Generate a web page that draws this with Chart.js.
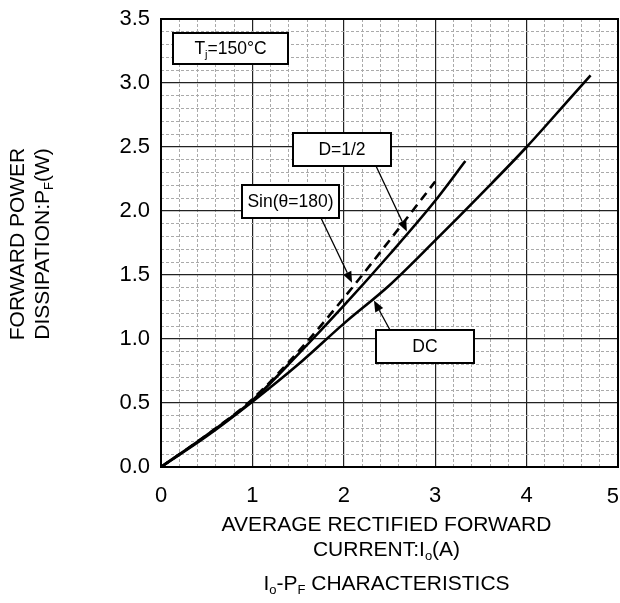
<!DOCTYPE html>
<html><head><meta charset="utf-8">
<script src="https://cdn.jsdelivr.net/npm/chart.js@4/dist/chart.umd.min.js"></script>
<style>html,body{margin:0;padding:0;background:#fff}#wrap{width:620px;height:603px}</style>
</head><body><div id="wrap"><canvas id="c" width="620" height="603"></canvas></div>
<script>
// ---- data ----
const dcX   = [0, 0.5, 1, 1.5, 2, 2.5, 3, 3.5, 4, 4.5, 4.7];
const dcY   = [0, 0.24, 0.51, 0.80, 1.12, 1.42, 1.77, 2.13, 2.50, 2.90, 3.06];
const halfX = [0, 0.5, 1, 1.5, 2, 2.5, 3, 3.33];
const halfY = [0, 0.25, 0.52, 0.88, 1.26, 1.66, 2.08, 2.39];
const sinX  = [0, 0.5, 1, 1.5, 2, 2.5, 3];
const sinY  = [0, 0.25, 0.53, 0.90, 1.32, 1.77, 2.23];
const xTickLabels = ['0','1','2','3','4','5'];
const yTickLabels = ['0.0','0.5','1.0','1.5','2.0','2.5','3.0','3.5'];

const FONT = '"Liberation Sans", Arial, sans-serif';
const toPts = (xs, ys) => xs.map((x, i) => ({x, y: ys[i]}));
const isMult = (v, m) => Math.abs(v / m - Math.round(v / m)) < 1e-6;
const X_MAX = 5;

// annotations (label boxes in pixels, arrow tips in data units)
const notes = [
  {parts:[['T'],['j',1],['=150°C']], box:[173,33,288,64], arrow:null},
  {parts:[['D=1/2']], box:[293,133,391,166], arrow:{from:[376,166], to:[2.69,1.84]}},
  {parts:[['Sin(θ=180)']], box:[242,185,339,218], arrow:{from:[321,218], to:[2.09,1.44]}},
  {parts:[['DC']], box:[376,330,474,363], arrow:{from:[390,330], to:[2.33,1.30]}}
];

function drawRich(ctx, parts, x, y, size, align) {
  const subSize = Math.round(size * 0.62);
  let w = 0;
  parts.forEach(p => { ctx.font = (p[1] ? subSize : size) + 'px ' + FONT; w += ctx.measureText(p[0]).width; });
  let cx = align === 'center' ? x - w / 2 : (align === 'right' ? x - w : x);
  ctx.textBaseline = 'middle';
  ctx.textAlign = 'left';
  parts.forEach(p => {
    ctx.font = (p[1] ? subSize : size) + 'px ' + FONT;
    ctx.fillText(p[0], cx, p[1] ? y + size * 0.32 : y);
    cx += ctx.measureText(p[0]).width;
  });
}

const decor = {
  id: 'decor',
  afterDraw(chart) {
    const {ctx, chartArea: a, scales: {x, y}} = chart;
    ctx.save();
    // frame
    ctx.strokeStyle = '#000'; ctx.lineWidth = 2;
    ctx.strokeRect(a.left, a.top, a.right - a.left, a.bottom - a.top);
    // last x tick label, kept inside the canvas
    ctx.fillStyle = '#000';
    drawRich(ctx, [[xTickLabels[X_MAX]]], x.getPixelForValue(X_MAX) + 1, 497, 22, 'right');
    // annotations
    notes.forEach(n => {
      const [l, t, r, b] = n.box;
      ctx.fillStyle = '#fff';
      ctx.fillRect(l, t, r - l, b - t);
      ctx.strokeStyle = '#000'; ctx.lineWidth = 2;
      ctx.strokeRect(l, t, r - l, b - t);
      ctx.fillStyle = '#000';
      drawRich(ctx, n.parts, (l + r) / 2, (t + b) / 2 + 1, 17.5, 'center');
      if (n.arrow) {
        const fx = n.arrow.from[0], fy = n.arrow.from[1];
        const tx = x.getPixelForValue(n.arrow.to[0]), ty = y.getPixelForValue(n.arrow.to[1]);
        const ang = Math.atan2(ty - fy, tx - fx);
        const hl = 11, hw = 4.5;
        const bx = tx - hl * Math.cos(ang), by = ty - hl * Math.sin(ang);
        ctx.lineWidth = 1.3;
        ctx.beginPath(); ctx.moveTo(fx, fy); ctx.lineTo(bx, by); ctx.stroke();
        ctx.beginPath();
        ctx.moveTo(tx, ty);
        ctx.lineTo(bx + hw * Math.sin(ang), by - hw * Math.cos(ang));
        ctx.lineTo(bx - hw * Math.sin(ang), by + hw * Math.cos(ang));
        ctx.closePath(); ctx.fill();
      }
    });
    // axis titles
    ctx.fillStyle = '#000';
    const cxm = (a.left + a.right) / 2 - 3;
    drawRich(ctx, [['AVERAGE RECTIFIED FORWARD']], cxm, 525, 21, 'center');
    drawRich(ctx, [['CURRENT:I'], ['o', 1], ['(A)']], cxm, 550, 21, 'center');
    drawRich(ctx, [['I'], ['o', 1], ['-P'], ['F', 1], [' CHARACTERISTICS']], cxm, 584, 21, 'center');
    ctx.save();
    ctx.rotate(-Math.PI / 2);
    drawRich(ctx, [['FORWARD POWER']], -244, 18, 21, 'center');
    drawRich(ctx, [['DISSIPATION:P'], ['F', 1], ['(W)']], -244, 43, 21, 'center');
    ctx.restore();
    ctx.restore();
  }
};

const lineDs = (label, xs, ys, dash) => ({
  label, data: toPts(xs, ys), showLine: true, borderColor: '#000', backgroundColor: '#000',
  borderWidth: 2.6, borderDash: dash || [], pointRadius: 0, cubicInterpolationMode: 'monotone', fill: false
});

new Chart(document.getElementById('c'), {
  type: 'scatter',
  data: { datasets: [
    lineDs('DC', dcX, dcY),
    lineDs('D=1/2', halfX, halfY),
    lineDs('Sin(θ=180)', sinX, sinY, [9, 6])
  ]},
  options: {
    responsive: false, animation: false, devicePixelRatio: 1,
    layout: { padding: { left: 0, right: 2, top: 19, bottom: 0 } },
    plugins: { legend: { display: false }, tooltip: { enabled: false } },
    scales: {
      x: {
        type: 'linear', min: 0, max: X_MAX,
        afterFit(s) { s.height = 136; s.paddingLeft = 0; s.paddingRight = 0; },
        ticks: {
          stepSize: 0.2, autoSkip: false, maxRotation: 0, padding: 16,
          font: { family: FONT, size: 22 }, color: '#000',
          callback: v => (isMult(v, 1) && Math.round(v) < X_MAX) ? xTickLabels[Math.round(v)] : ''
        },
        grid: {
          drawTicks: false,
          color: c => isMult(c.tick.value, 1) ? '#222' : '#aaa',
          lineWidth: c => isMult(c.tick.value, 1) ? 1.2 : 1
        },
        border: { display: false, dash: c => (c.tick && isMult(c.tick.value, 1)) ? [] : [3, 2] }
      },
      y: {
        type: 'linear', min: 0, max: 3.5,
        afterFit(s) { s.width = 161; s.paddingTop = 0; s.paddingBottom = 0; },
        ticks: {
          stepSize: 0.1, autoSkip: false, padding: 11,
          font: { family: FONT, size: 22 }, color: '#000',
          callback: v => isMult(v, 0.5) ? yTickLabels[Math.round(v / 0.5)] : ''
        },
        grid: {
          drawTicks: false,
          color: c => isMult(c.tick.value, 0.5) ? '#222' : '#aaa',
          lineWidth: c => isMult(c.tick.value, 0.5) ? 1.2 : 1
        },
        border: { display: false, dash: c => (c.tick && isMult(c.tick.value, 0.5)) ? [] : [3, 2] }
      }
    }
  },
  plugins: [decor]
});
</script>
</body></html>
